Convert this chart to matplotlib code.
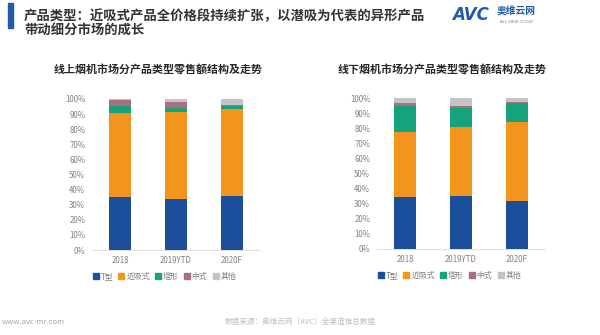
import matplotlib
matplotlib.use("Agg")
import matplotlib.pyplot as plt
from matplotlib.patches import Rectangle
from matplotlib.lines import Line2D

plt.rcParams['font.family'] = ['Noto Sans CJK SC', 'DejaVu Sans']

# -----------------------------
# Data
# -----------------------------
years = ["2018", "2019YTD", "2020F"]
types = ["T型", "近吸式", "塔形", "中式", "其他"]
colors = ["#1B4F9C", "#F1951F", "#15A37E", "#A8707F", "#C3C3C3"]

online = {
    "T型":   [35.3, 34.0, 35.8],
    "近吸式": [55.2, 57.6, 57.6],
    "塔形":  [4.9, 2.4, 2.0],
    "中式":  [3.7, 4.2, 0.5],
    "其他":  [0.9, 1.8, 4.1],
}
offline = {
    "T型":   [34.5, 35.0, 31.6],
    "近吸式": [43.2, 45.8, 52.2],
    "塔形":  [17.2, 12.6, 13.1],
    "中式":  [1.8, 1.3, 0.3],
    "其他":  [3.3, 5.3, 2.8],
}

W, H = 600, 335
fig = plt.figure(figsize=(6, 3.35), dpi=100)


def px(x0, y0, x1, y1):
    return [x0 / W, 1 - y1 / H, (x1 - x0) / W, (y1 - y0) / H]


def draw(ax, data, subtitle, cx):
    bottom = [0, 0, 0]
    for t, c in zip(types, colors):
        vals = data[t]
        ax.bar(range(len(years)), vals, 0.39, bottom=bottom, color=c, label=t)
        bottom = [b + v for b, v in zip(bottom, vals)]
    ax.set_xlim(-0.5, 2.5)
    ax.set_ylim(0, 100)
    ax.set_yticks(range(0, 101, 10))
    ax.set_yticklabels([f"{v}%" for v in range(0, 101, 10)])
    ax.set_xticks(range(len(years)))
    ax.set_xticklabels(years)
    ax.tick_params(length=0, labelsize=5.7, labelcolor="#808080")
    ax.tick_params(axis="y", pad=5)
    ax.tick_params(axis="x", pad=4)
    for s in ["top", "right", "left"]:
        ax.spines[s].set_visible(False)
    ax.spines["bottom"].set_color("#D9D9D9")
    ax.spines["bottom"].set_linewidth(0.6)
    handles = [Line2D([], [], marker="s", linestyle="", markersize=3.8,
                      color=c) for c in colors]
    ax.legend(handles, types, loc="upper center", bbox_to_anchor=(0.43, -0.1),
              ncol=5, frameon=False, fontsize=5.7, handletextpad=0.15,
              columnspacing=0.6, labelcolor="#7F7F7F", handlelength=0.9)
    fig.text(cx / W, 1 - 70 / H, subtitle, ha="center", va="center",
             fontsize=7.9, fontweight="bold", color="#262626")


ax1 = fig.add_axes(px(92, 99, 260, 250))
draw(ax1, online, "线上烟机市场分产品类型零售额结构及走势", 158)
ax2 = fig.add_axes(px(377, 98, 545, 249))
draw(ax2, offline, "线下烟机市场分产品类型零售额结构及走势", 442)

# header
fig.patches.append(Rectangle((8 / W, 1 - 28 / H), 5 / W, 25 / H,
                             transform=fig.transFigure, color="#1F5BA8"))
fig.text(24 / W, 1 - 16 / H, "产品类型：近吸式产品全价格段持续扩张，以潜吸为代表的异形产品",
         fontsize=9.6, fontweight="bold", color="#333333", va="center")
fig.text(24 / W, 1 - 30 / H, "带动细分市场的成长",
         fontsize=9.6, fontweight="bold", color="#333333", va="center")

# logo
fig.text(452 / W, 1 - 15 / H, "AVC", fontsize=12, fontweight="bold",
         style="italic", color="#1F5BA8", va="center", family="DejaVu Sans")
fig.text(497 / W, 1 - 12 / H, "奥维云网", fontsize=7, fontweight="bold",
         color="#1F5BA8", va="center")
fig.text(500 / W, 1 - 22 / H, "ALL VIEW CLOUD", fontsize=2.8,
         color="#7F7F7F", va="center", family="DejaVu Sans")

# footer
fig.text(2 / W, 1 - 322 / H, "www.avc-mr.com", fontsize=5.5,
         color="#A6A6A6", va="center")
fig.text(300 / W, 1 - 322 / H, "数据来源：奥维云网（AVC）全渠道推总数据",
         fontsize=5.5, color="#BFBFBF", va="center", ha="center")

fig.savefig("out.png", dpi=100)
